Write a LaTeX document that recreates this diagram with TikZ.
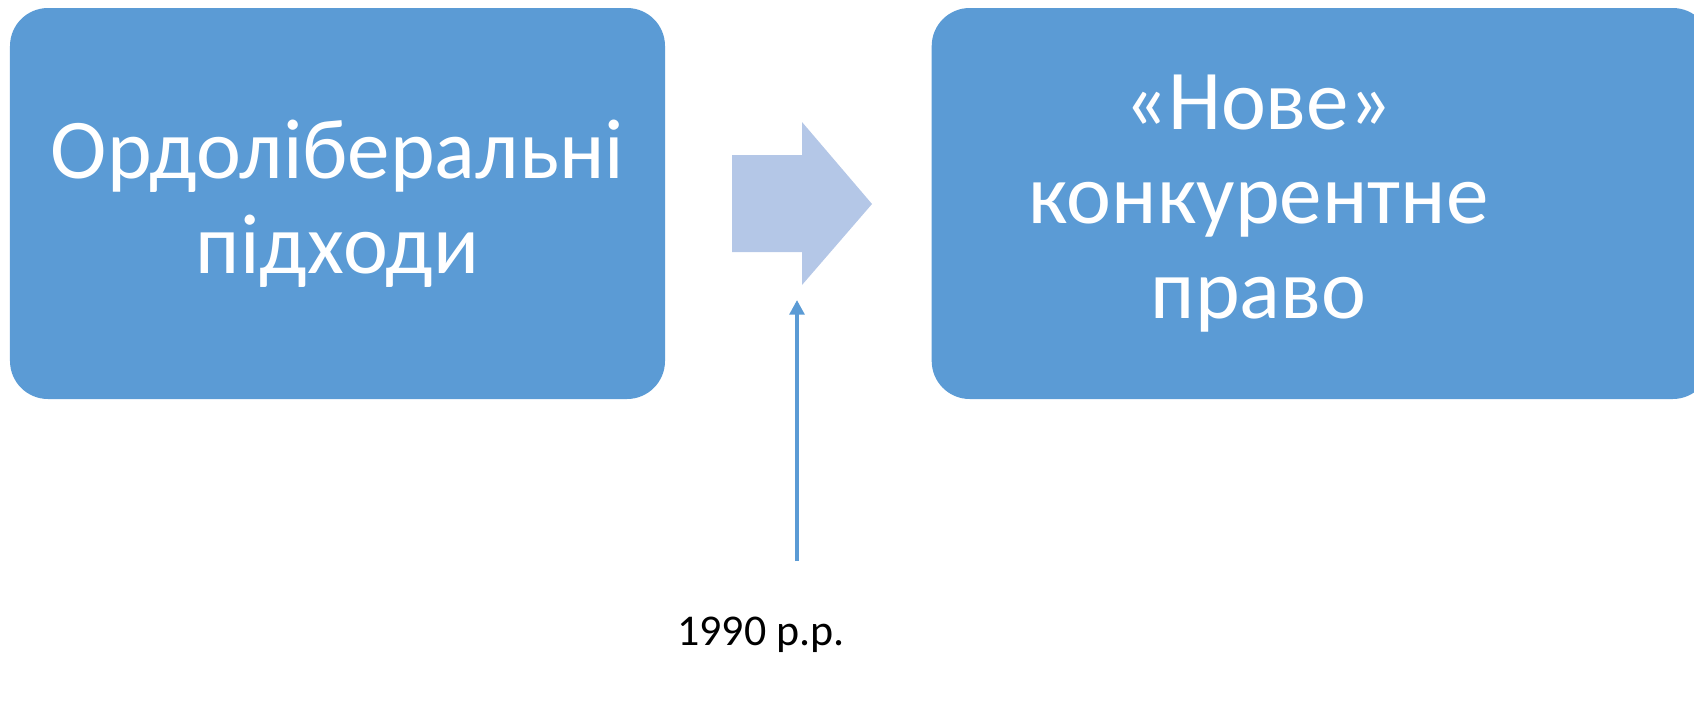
\documentclass[tikz,border=0pt]{standalone}
\usepackage{fontspec}
\setmainfont{Carlito}
\usetikzlibrary{arrows.meta}
\definecolor{boxblue}{HTML}{5B9BD5}
\definecolor{arrowblue}{HTML}{B4C7E7}

\begin{document}
\begin{tikzpicture}[
	box/.style={fill=boxblue, rounded corners=0.38cm, minimum width=6.55cm, minimum height=3.91cm, inner sep=0},
	boxtext/.style={text=white, align=center, font=\fontsize{24.2}{27}\selectfont}]
	\clip (0,0) rectangle (16.94,7.09);
	\node[box, boxtext] (ordo) at (3.375,5.055) {Ордоліберальні\\підходи};
	\node[box, minimum width=7.79cm, anchor=west] (nove) at (9.31,5.055) {};
	\node[boxtext] (novetext) at ([xshift=3.275cm]nove.west) {«Нове»\\конкурентне\\право};
	\fill[arrowblue] (7.32,4.57) -- (8.02,4.57) -- (8.02,4.24) -- (8.72,5.05) -- (8.02,5.87) -- (8.02,5.54) -- (7.32,5.54) -- cycle;
	\node[font=\fontsize{12.5}{15}\selectfont] (year) at (7.61,0.74) {1990 р.р.};
	\coordinate (yearfoot) at (7.97,1.48);
	\coordinate (yeartip) at (7.97,4.09);
	\draw[boxblue, line width=1.05pt, -{Triangle[width=0.145cm,length=0.145cm]}] (yearfoot) -- (yeartip);
\end{tikzpicture}
\end{document}
